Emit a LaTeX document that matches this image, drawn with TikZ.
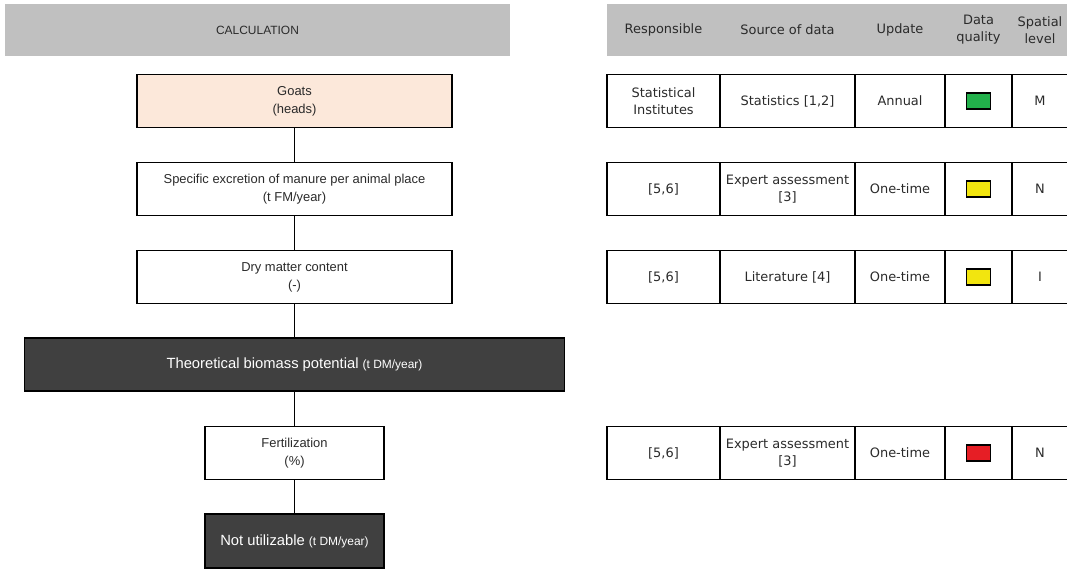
\documentclass[tikz,border=0pt]{standalone}
\usepackage{fontspec}
\setmainfont{Liberation Sans}
\newfontfamily\tabfont{DejaVu Sans}
\definecolor{headgray}{HTML}{C0C0C0}
\definecolor{peach}{HTML}{FCE8DA}
\definecolor{darkbox}{HTML}{404040}
\definecolor{qgreen}{HTML}{22B04B}
\definecolor{qyellow}{HTML}{F2E50F}
\definecolor{qred}{HTML}{E61E25}
\definecolor{txt}{HTML}{2A2A2A}

\begin{document}
\begin{tikzpicture}[x=0.025cm,y=-0.025cm,line width=1.1pt,
  head/.style={fill=headgray,minimum height=1.3cm,inner sep=0pt,text=txt,align=center},
  box/.style={draw,minimum width=7.875cm,minimum height=1.325cm,inner sep=0pt,align=center,
    text=txt,font=\fontsize{9.2}{12.8}\selectfont},
  dark/.style={box,fill=darkbox,text=white,font=\fontsize{10.5}{12}\selectfont},
  cell/.style={draw,minimum height=1.325cm,inner sep=0pt,align=center,text=txt,
    font=\tabfont\fontsize{9.2}{12}\selectfont},
  qbox/.style={draw,line width=1pt,minimum width=0.6cm,minimum height=0.4cm,inner sep=0pt}]
\useasboundingbox (0,0) rectangle (1067,568);
\clip (0,0) rectangle (1067,568);

% calculation chain
\node[head,minimum width=12.625cm,font=\fontsize{8.5}{10}\selectfont] (calc) at (257.5,30) {CALCULATION};
\node[box,fill=peach] (goats) at (294.5,101) {Goats\\(heads)};
\node[box] (excr) at (294.5,189) {Specific excretion of manure per animal place\\(t FM/year)};
\node[box] (dry) at (294.5,277) {Dry matter content\\(-)};
\node[dark,minimum width=13.5cm] (theo) at (294.5,364.5)
  {Theoretical biomass potential {\fontsize{8.5}{10}\selectfont(t DM/year)}};
\node[box,minimum width=4.475cm] (fert) at (294.5,453) {Fertilization\\(\%)};
\node[dark,minimum width=4.475cm,minimum height=1.35cm] (notu) at (294.5,541)
  {Not utilizable {\fontsize{8.5}{10}\selectfont(t DM/year)}};
\draw (goats) -- (excr);
\draw (excr) -- (dry);
\draw (dry) -- (theo);
\draw (theo) -- (fert);
\draw (fert) -- (notu);

% table head
\fill[headgray] (607,4) rectangle (1067,56);
\foreach \x/\t in {663.5/Responsible,787.5/Source of data,900/Update,978.5/{Data\\quality},1040/{Spatial\\level}}
  \node[text=txt,align=center,font=\tabfont\fontsize{9.2}{12}\selectfont] at (\x,30) {\t};

% table rows
\foreach \y/\resp/\src/\upd/\col/\lev [count=\i] in {
    101/{Statistical\\Institutes}/{Statistics [1,2]}/Annual/qgreen/M,
    189/{[5,6]}/{Expert assessment\\{}[3]}/One-time/qyellow/N,
    277/{[5,6]}/{Literature [4]}/One-time/qyellow/I,
    453/{[5,6]}/{Expert assessment\\{}[3]}/One-time/qred/N}{
  \node[cell,minimum width=2.825cm] (resp\i) at (663.5,\y) {\resp};
  \node[cell,minimum width=3.375cm] (src\i) at (787.5,\y) {\src};
  \node[cell,minimum width=2.25cm] (upd\i) at (900,\y) {\upd};
  \node[cell,minimum width=1.675cm] (qual\i) at (978.5,\y) {};
  \node[cell,minimum width=1.4cm] (lev\i) at (1040,\y) {\lev};
  \node[qbox,fill=\col] (sq\i) at (qual\i) {};
}
\end{tikzpicture}
\end{document}
